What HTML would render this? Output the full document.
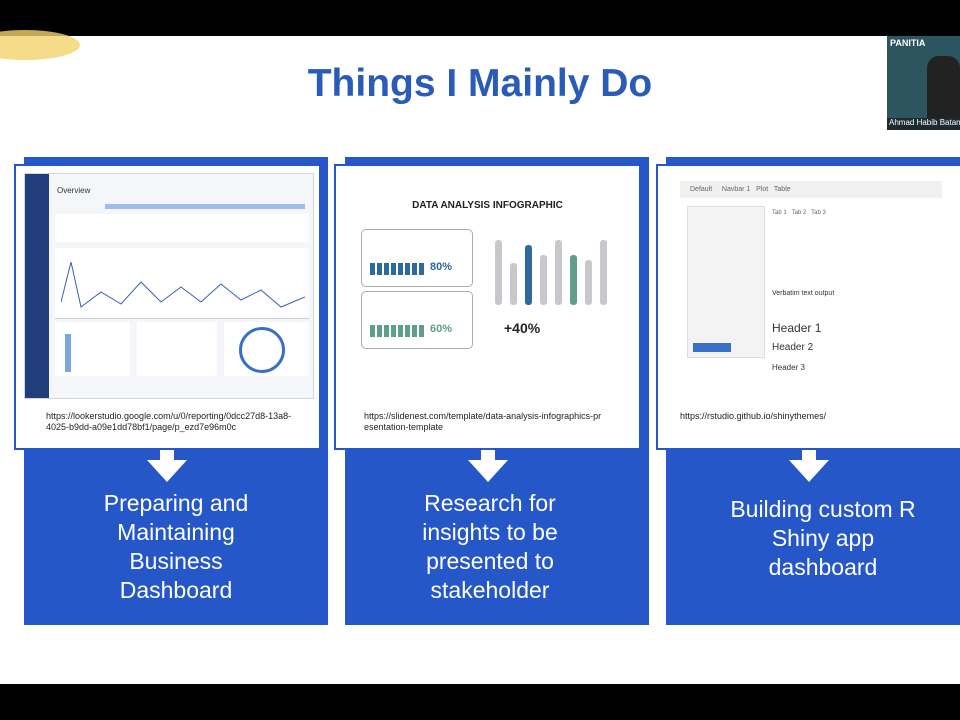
<!DOCTYPE html>
<html><head><style>
body{margin:0;width:960px;height:720px;position:relative;overflow:hidden;background:#fff;font-family:"Liberation Sans",sans-serif}
.a{position:absolute}
.blue{background:#2557c9}
.wb{background:#fff;border:2px solid #2557c9;box-sizing:border-box}
.url{font-size:9px;color:#222;line-height:11px}
.cap{color:#fff;font-size:23px;text-align:center;line-height:29px}
.arrow{width:0;height:0;border-left:20px solid transparent;border-right:20px solid transparent;border-top:22px solid #fff}
.stem{width:14px;background:#fff}
</style></head><body>
<div class="a" style="left:0;top:0;width:960px;height:36px;background:#000"></div>
<div class="a" style="left:0;top:684px;width:960px;height:36px;background:#000"></div>
<div class="a" style="left:-30px;top:30px;width:110px;height:30px;border-radius:50%;background:#f3d36a;opacity:.8"></div>
<div class="a" style="left:0;top:62px;width:960px;text-align:center;font-size:39px;font-weight:bold;color:#2a5bb8">Things I Mainly Do</div>
<div class="a" style="left:887px;top:36px;width:73px;height:94px;background:#2d5560"><div style="color:#fff;font-size:9px;font-weight:bold;padding:2px 3px">PANITIA</div><div class="a" style="left:40px;top:20px;width:33px;height:65px;background:#222;border-radius:12px 12px 0 0"></div><div class="a" style="left:0;top:82px;width:73px;height:12px;background:#1d2a30;color:#fff;font-size:8px;white-space:nowrap;padding-left:2px">Ahmad Habib Batan</div></div>

<!-- col1 -->
<div class="a blue" style="left:24px;top:157px;width:304px;height:468px"></div>
<div class="a wb" style="left:14px;top:164px;width:307px;height:286px"></div>
<div class="a" style="left:24px;top:173px;width:288px;height:224px;background:#f4f6fa;border:1px solid #d0d6e2"><div class="a" style="left:0;top:0;width:24px;height:224px;background:#1f3e7a"></div><div class="a" style="left:32px;top:12px;font-size:8px;color:#333">Overview</div><div class="a" style="left:80px;top:30px;width:200px;height:5px;background:#9fbbe8"></div><div class="a" style="left:30px;top:40px;width:254px;height:28px;background:#fff"></div><div class="a" style="left:30px;top:74px;width:254px;height:70px;background:#fff;border-bottom:1px solid #ccd"></div><svg class="a" style="left:36px;top:88px" width="244" height="50"><polyline fill="none" stroke="#3a5fb0" points="0,40 10,0 20,45 40,30 60,42 80,20 100,40 120,25 140,40 160,22 180,38 200,28 220,45 244,35"/></svg><div class="a" style="left:30px;top:148px;width:75px;height:54px;background:#fff"></div><div class="a" style="left:112px;top:148px;width:80px;height:54px;background:#fff"></div><div class="a" style="left:199px;top:148px;width:85px;height:54px;background:#fff"></div><div class="a" style="left:214px;top:153px;width:40px;height:40px;border:3px solid #3a6fc8;border-radius:50%"></div><div class="a" style="left:40px;top:160px;width:6px;height:38px;background:#7ba4e0"></div></div>
<div class="a url" style="left:46px;top:411px">https://lookerstudio.google.com/u/0/reporting/0dcc27d8-13a8-<br>4025-b9dd-a09e1dd78bf1/page/p_ezd7e96m0c</div>
<div class="a stem" style="left:160px;top:450px;height:12px"></div>
<div class="a arrow" style="left:147px;top:460px"></div>
<div class="a cap" style="left:24px;top:489px;width:304px">Preparing and<br>Maintaining<br>Business<br>Dashboard</div>

<!-- col2 -->
<div class="a blue" style="left:345px;top:157px;width:304px;height:468px"></div>
<div class="a wb" style="left:334px;top:164px;width:307px;height:286px"></div>
<div class="a" style="left:350px;top:200px;width:275px;text-align:center;font-size:10px;font-weight:bold;color:#222">DATA ANALYSIS INFOGRAPHIC</div>
<div class="a" style="left:361px;top:229px;width:110px;height:56px;border:1px solid #aaa;border-radius:5px"><div class="a" style="left:8px;top:33px;width:56px;height:12px;background:repeating-linear-gradient(90deg,#2d6a9c 0 5px,#fff 5px 7px)"></div><div class="a" style="left:68px;top:31px;font-size:11px;font-weight:bold;color:#2d6a9c">80%</div></div>
<div class="a" style="left:361px;top:291px;width:110px;height:56px;border:1px solid #aaa;border-radius:5px"><div class="a" style="left:8px;top:33px;width:56px;height:12px;background:repeating-linear-gradient(90deg,#5f9e8a 0 5px,#fff 5px 7px)"></div><div class="a" style="left:68px;top:31px;font-size:11px;font-weight:bold;color:#5f9e8a">60%</div></div>
<svg class="a" style="left:490px;top:235px" width="120" height="70"><g fill="#c8c8cc"><rect x="5" y="5" width="7" height="65" rx="3"/><rect x="20" y="28" width="7" height="42" rx="3"/><rect x="50" y="20" width="7" height="50" rx="3"/><rect x="65" y="5" width="7" height="65" rx="3"/><rect x="95" y="25" width="7" height="45" rx="3"/><rect x="110" y="5" width="7" height="65" rx="3"/></g><rect x="35" y="10" width="7" height="60" rx="3" fill="#2d6a9c"/><rect x="80" y="20" width="7" height="50" rx="3" fill="#5f9e8a"/></svg>
<div class="a" style="left:504px;top:320px;font-size:14px;font-weight:bold;color:#222">+40%</div>
<div class="a url" style="left:364px;top:411px">https://slidenest.com/template/data-analysis-infographics-pr<br>esentation-template</div>
<div class="a stem" style="left:481px;top:450px;height:12px"></div>
<div class="a arrow" style="left:468px;top:460px"></div>
<div class="a cap" style="left:345px;top:489px;width:290px">Research for<br>insights to be<br>presented to<br>stakeholder</div>

<!-- col3 -->
<div class="a blue" style="left:666px;top:157px;width:294px;height:468px"></div>
<div class="a wb" style="left:656px;top:164px;width:310px;height:286px"></div>
<div class="a" style="left:680px;top:181px;width:262px;height:17px;background:#f0f0f0;font-size:7px;color:#666;line-height:17px;padding-left:10px;box-sizing:border-box">Default &nbsp; &nbsp; Navbar 1 &nbsp; Plot &nbsp; Table</div>
<div class="a" style="left:687px;top:206px;width:76px;height:150px;background:#f3f3f3;border:1px solid #ddd"><div class="a" style="left:5px;top:136px;width:38px;height:9px;background:#3a6fc8"></div></div>
<div class="a" style="left:772px;top:210px;font-size:6px;color:#666">Tab 1 &nbsp; Tab 2 &nbsp; Tab 3</div>
<div class="a" style="left:772px;top:290px;font-size:7px;color:#333">Verbatim text output</div>
<div class="a" style="left:772px;top:319px;font-size:12px;color:#333;line-height:18px">Header 1<br><span style="font-size:10px">Header 2</span><br><span style="font-size:8px">Header 3</span></div>
<div class="a url" style="left:680px;top:411px">https://rstudio.github.io/shinythemes/</div>
<div class="a stem" style="left:802px;top:450px;height:12px"></div>
<div class="a arrow" style="left:789px;top:460px"></div>
<div class="a cap" style="left:676px;top:495px;width:294px">Building custom R<br>Shiny app<br>dashboard</div>
</body></html>
